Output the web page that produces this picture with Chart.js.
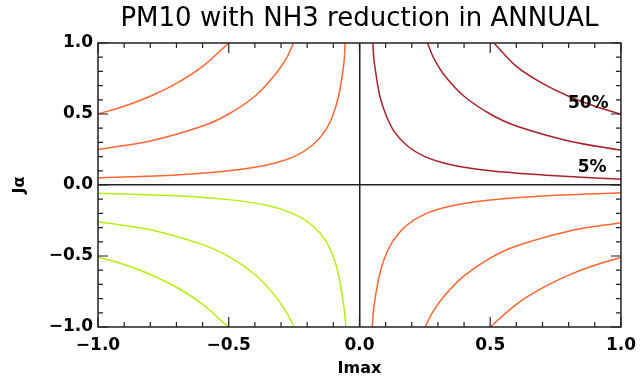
<!DOCTYPE html>
<html>
<head>
<meta charset="utf-8">
<script src="https://cdn.jsdelivr.net/npm/chart.js@4"></script>
<style>
  html, body { margin: 0; padding: 0; background: #fff; }
  #wrap { width: 644px; height: 381px; }
</style>
</head>
<body>
<div id="wrap"><canvas id="pmChart" width="644" height="381"></canvas></div>
<script>
// contour lines, [Imax, Ja] pairs
const upLeft50 = [[-1, 0.5], [-0.9, 0.555], [-0.8, 0.625], [-0.7, 0.715], [-0.6, 0.835], [-0.5, 1.0]];
const upLeft25 = [[-1, 0.25], [-0.8, 0.31], [-0.6, 0.415], [-0.5, 0.5], [-0.4, 0.625], [-0.33, 0.76], [-0.28, 0.89], [-0.252, 1.0]];
const upLeft5 = [[-1, 0.05], [-0.7, 0.071], [-0.5, 0.1], [-0.35, 0.143], [-0.25, 0.2], [-0.18, 0.28], [-0.13, 0.385], [-0.1, 0.5], [-0.08, 0.625], [-0.066, 0.77], [-0.058, 0.89], [-0.055, 1.0]];

const upRight50 = [[0.514, 1.0], [0.6, 0.835], [0.7, 0.715], [0.8, 0.625], [0.9, 0.555], [1, 0.498]];
const upRight25 = [[0.26, 1.0], [0.285, 0.89], [0.33, 0.76], [0.4, 0.625], [0.5, 0.5], [0.6, 0.415], [0.8, 0.31], [1, 0.244]];
const upRight5 = [[0.051, 1.0], [0.055, 0.89], [0.064, 0.77], [0.078, 0.625], [0.1, 0.5], [0.13, 0.385], [0.18, 0.28], [0.25, 0.2], [0.35, 0.143], [0.5, 0.1], [0.7, 0.071], [1, 0.04]];

const lowLeft50 = [[-1, -0.507], [-0.9, -0.56], [-0.8, -0.63], [-0.7, -0.72], [-0.6, -0.84], [-0.502, -1.0]];
const lowLeft25 = [[-1, -0.258], [-0.8, -0.315], [-0.6, -0.42], [-0.5, -0.505], [-0.4, -0.63], [-0.33, -0.765], [-0.28, -0.895], [-0.25, -1.0]];
const lowLeft5 = [[-1, -0.058], [-0.7, -0.075], [-0.5, -0.103], [-0.35, -0.145], [-0.25, -0.205], [-0.18, -0.285], [-0.13, -0.39], [-0.1, -0.505], [-0.08, -0.63], [-0.066, -0.775], [-0.057, -0.895], [-0.052, -1.0]];

const lowRight50 = [[0.5, -1.0], [0.6, -0.84], [0.7, -0.725], [0.8, -0.635], [0.9, -0.565], [1, -0.51]];
const lowRight25 = [[0.251, -1.0], [0.28, -0.895], [0.33, -0.77], [0.4, -0.64], [0.5, -0.515], [0.6, -0.43], [0.8, -0.325], [1, -0.265]];
const lowRight5 = [[0.049, -1.0], [0.053, -0.895], [0.062, -0.775], [0.077, -0.63], [0.098, -0.505], [0.13, -0.39], [0.18, -0.285], [0.25, -0.205], [0.35, -0.148], [0.5, -0.105], [0.7, -0.077], [1, -0.054]];

const lineSets = [upLeft50, upLeft25, upLeft5, upRight50, upRight25, upRight5,
                  lowLeft50, lowLeft25, lowLeft5, lowRight50, lowRight25, lowRight5];
const lineColors = ['#ff6630', '#ff6630', '#ff6630', '#a8222c', '#a8222c', '#a8222c',
                    '#b4ee10', '#b4ee10', '#b4ee10', '#ff6630', '#ff6630', '#ff6630'];

const levelLabels = ['50%', '5%'];
const labelX = [0.875, 0.89];
const labelY = [0.57, 0.125];

const axisTicks = [-1, -0.5, 0, 0.5, 1];

const fmt = v => (v < 0 ? '\u2212' : '') + Math.abs(v).toFixed(1);

// box, inward ticks on all four sides, level labels
const framePlugin = {
    id: 'frame',
    afterDraw(chart) {
        const ctx = chart.ctx;
        const a = chart.chartArea;
        const xs = chart.scales.x;
        const ys = chart.scales.y;
        ctx.save();
        ctx.strokeStyle = '#222';
        ctx.lineWidth = 1.5;
        ctx.strokeRect(a.left, a.top, a.right - a.left, a.bottom - a.top);
        ctx.lineWidth = 1.2;
        ctx.beginPath();
        for (let i = -10; i <= 10; i++) {
            const major = i % 5 === 0;
            const len = major ? 10 : 5;
            const px = xs.getPixelForValue(i / 10);
            const py = ys.getPixelForValue(i / 10);
            ctx.moveTo(px, a.bottom); ctx.lineTo(px, a.bottom - len);
            ctx.moveTo(px, a.top); ctx.lineTo(px, a.top + len);
            ctx.moveTo(a.left, py); ctx.lineTo(a.left + len, py);
            ctx.moveTo(a.right, py); ctx.lineTo(a.right - len, py);
        }
        ctx.stroke();

        ctx.fillStyle = '#000';
        ctx.font = 'bold 17px "DejaVu Sans"';
        ctx.textAlign = 'center';
        ctx.textBaseline = 'middle';
        levelLabels.forEach((t, i) => {
            ctx.fillText(t, xs.getPixelForValue(labelX[i]), ys.getPixelForValue(labelY[i]));
        });
        ctx.restore();
    }
};

window.onload = () => {
    const ctx = document.getElementById('pmChart').getContext('2d');
    new Chart(ctx, {
        type: 'scatter',
        data: {
            datasets: lineSets.map((pts, i) => ({
                data: pts.map(p => ({ x: p[0], y: p[1] })),
                showLine: true,
                borderColor: lineColors[i],
                borderWidth: 1.5,
                pointRadius: 0,
                tension: 0.3,
                fill: false
            }))
        },
        options: {
            responsive: false,
            animation: false,
            layout: { padding: { left: 0, right: 19, top: 0, bottom: 0 } },
            plugins: {
                legend: { display: false },
                tooltip: { enabled: false },
                title: {
                    display: true,
                    fullSize: false,
                    text: 'PM10 with NH3 reduction in ANNUAL',
                    color: '#000',
                    font: { family: 'DejaVu Sans', size: 26, weight: 'normal', lineHeight: 1.2 },
                    padding: { top: 4, bottom: 7.8 }
                }
            },
            scales: {
                x: {
                    type: 'linear',
                    min: -1, max: 1,
                    afterBuildTicks: s => { s.ticks = axisTicks.map(v => ({ value: v })); },
                    afterFit: s => { s.height = 54; },
                    ticks: {
                        callback: v => fmt(v),
                        color: '#000',
                        padding: 8,
                        maxRotation: 0,
                        font: { family: 'DejaVu Sans', size: 17, weight: 'bold' }
                    },
                    grid: {
                        drawTicks: false,
                        color: c => (c.tick && c.tick.value === 0 ? '#222' : 'transparent'),
                        lineWidth: 1.5
                    },
                    border: { display: false },
                    title: {
                        display: true,
                        text: 'Imax',
                        color: '#000',
                        font: { family: 'DejaVu Sans', size: 16, weight: 'bold' },
                        padding: { top: 0, bottom: 3 }
                    }
                },
                y: {
                    type: 'linear',
                    min: -1, max: 1,
                    afterBuildTicks: s => { s.ticks = axisTicks.map(v => ({ value: v })); },
                    afterFit: s => { s.width = 98; },
                    ticks: {
                        callback: v => fmt(v),
                        color: '#000',
                        padding: 5,
                        font: { family: 'DejaVu Sans', size: 17, weight: 'bold' }
                    },
                    grid: {
                        drawTicks: false,
                        color: c => (c.tick && c.tick.value === 0 ? '#222' : 'transparent'),
                        lineWidth: 1.5
                    },
                    border: { display: false },
                    title: {
                        display: true,
                        text: 'J\u03b1',
                        color: '#000',
                        font: { family: 'DejaVu Sans', size: 16, weight: 'bold' },
                        padding: { top: 10, bottom: 0 }
                    }
                }
            }
        },
        plugins: [framePlugin]
    });
};
</script>
</body>
</html>
